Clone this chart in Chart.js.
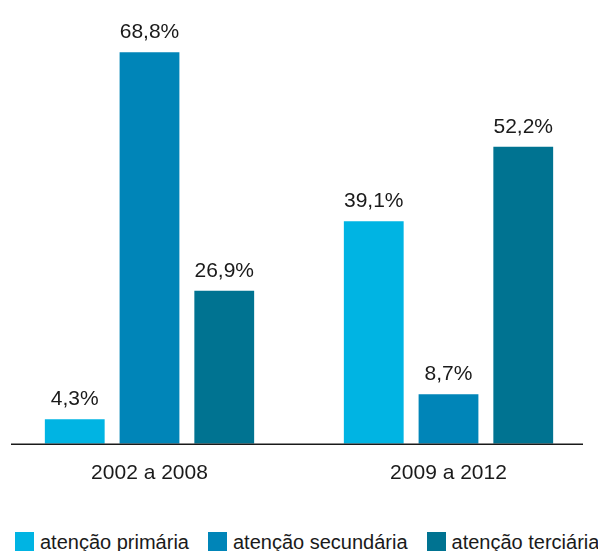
<!DOCTYPE html>
<html>
<head>
<meta charset="utf-8">
<script src="https://cdn.jsdelivr.net/npm/chart.js@4.4.0/dist/chart.umd.min.js"></script>
<style>
  html, body { margin: 0; padding: 0; background: #fff; overflow: hidden; }
  #wrap { position: relative; width: 598px; height: 551px; font-family: "Liberation Sans", Arial, sans-serif; }
  #chartBox { position: absolute; left: 0; top: 0; width: 598px; height: 518px; }
  #legend { position: absolute; left: 15px; top: 531px; display: flex; align-items: flex-start; font-size: 20px; color: #1a1a1a; white-space: nowrap; }
  #legend .item { display: flex; align-items: flex-start; margin-right: 19px; }
  #legend .box { width: 19px; height: 20px; margin-right: 6px; margin-top: 1px; }
  #legend .txt { line-height: 20px; margin-top: 1px; }
</style>
</head>
<body>
<div id="wrap">
  <div id="chartBox"><canvas id="myChart"></canvas></div>
  <div id="legend"></div>
</div>
<script>
// data
var categories = ['2002 a 2008', '2009 a 2012'];
var seriesNames = ['atenção primária', 'atenção secundária', 'atenção terciária'];
var primaria = [4.3, 39.1];
var secundaria = [68.8, 8.7];
var terciaria = [26.9, 52.2];
var colors = ['#00b4e3', '#0085b8', '#007391'];

var fontFamily = '"Liberation Sans", Arial, sans-serif';

// value labels above the bars, with decimal comma
var valueLabels = {
	id: 'valueLabels',
	afterDatasetsDraw: function(chart) {
		var ctx = chart.ctx;
		ctx.save();
		ctx.font = '21px ' + fontFamily;
		ctx.fillStyle = '#1a1a1a';
		ctx.textAlign = 'center';
		ctx.textBaseline = 'alphabetic';
		chart.data.datasets.forEach(function(ds, i) {
			chart.getDatasetMeta(i).data.forEach(function(bar, j) {
				var txt = ds.data[j].toFixed(1).replace('.', ',') + '%';
				ctx.fillText(txt, bar.x, bar.y - 14);
			});
		});
		ctx.restore();
	}
};

// the baseline, a bit shorter than the plot width
var baseLine = {
	id: 'baseLine',
	afterDatasetsDraw: function(chart) {
		var ctx = chart.ctx;
		var area = chart.chartArea;
		var y = chart.scales.y.getPixelForValue(0) + 0.5;
		ctx.save();
		ctx.strokeStyle = '#1a1a1a';
		ctx.lineWidth = 1.5;
		ctx.beginPath();
		ctx.moveTo(area.left + 11, y);
		ctx.lineTo(area.right - 15, y);
		ctx.stroke();
		ctx.restore();
	}
};

var names = seriesNames;
var values = [primaria, secundaria, terciaria];

const ctx = document.getElementById('myChart').getContext('2d');
const myChart = new Chart(ctx, {
	type: 'bar',
	data: {
		labels: categories,
		datasets: names.map(function(n, i) {
			return {
				label: n,
				data: values[i],
				backgroundColor: colors[i],
				borderWidth: 0,
				categoryPercentage: 0.75,
				barPercentage: 0.8
			};
		})
	},
	options: {
		responsive: true,
		maintainAspectRatio: false,
		animation: false,
		layout: { padding: { top: 17, left: 0, right: 0, bottom: 15 } },
		plugins: {
			legend: { display: false },
			tooltip: { enabled: false }
		},
		scales: {
			x: {
				grid: { display: false, drawTicks: false },
				border: { display: false },
				ticks: {
					padding: 17,
					color: '#1a1a1a',
					font: { family: fontFamily, size: 21 }
				}
			},
			y: {
				display: false,
				min: 0,
				max: 75
			}
		}
	},
	plugins: [valueLabels, baseLine]
});

// legend as html
var legend = document.getElementById('legend');
names.forEach(function(n, i) {
	var item = document.createElement('div');
	item.className = 'item';
	item.innerHTML = '<span class="box" style="background:' + colors[i] + '"></span><span class="txt">' + n + '</span>';
	legend.appendChild(item);
});
</script>
</body>
</html>
